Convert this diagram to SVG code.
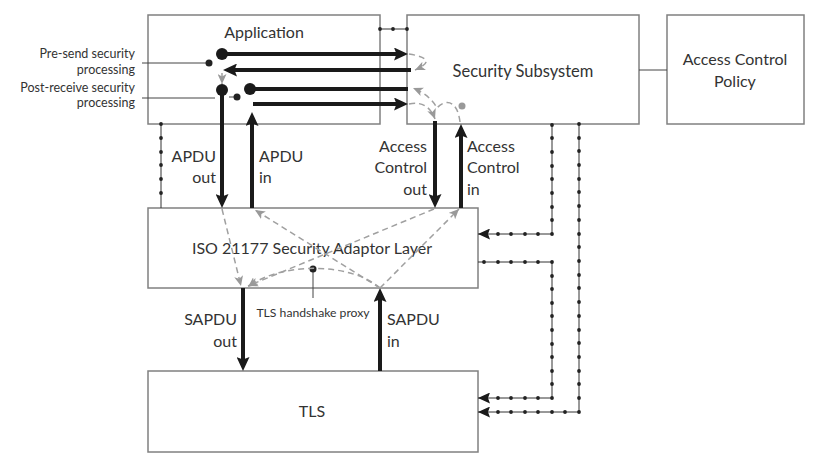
<svg xmlns="http://www.w3.org/2000/svg" width="817" height="465" viewBox="0 0 817 465">
<style>
.box{fill:#fff;stroke:#808080;stroke-width:1.5}
.t{font-family:Lato,"Open Sans","Liberation Sans",sans-serif;fill:#333}
.big{font-size:16px}
.sm{font-size:12.5px}
.thick{stroke:#1a1a1a;stroke-width:4;fill:none}
.dash{stroke:#a0a0a0;stroke-width:1.5;fill:none;stroke-dasharray:6 4}
.dc{stroke:#333;stroke-width:1;fill:none}
.dt{fill:#222}
.ln{stroke:#444;stroke-width:1;fill:none}
</style>
<defs>
<marker id="ba" viewBox="0 0 14 13" refX="4" refY="6.5" markerWidth="14" markerHeight="13" markerUnits="userSpaceOnUse" orient="auto"><path d="M0,0 L14,6.5 L0,13 L2.5,6.5 z" fill="#1a1a1a"/></marker>
<marker id="da" viewBox="0 0 12 11" refX="12" refY="5.5" markerWidth="12" markerHeight="11" markerUnits="userSpaceOnUse" orient="auto"><path d="M0,0 L12,5.5 L0,11 L2,5.5 z" fill="#1a1a1a"/></marker>
<marker id="ga" viewBox="0 0 10 9" refX="10" refY="4.5" markerWidth="10" markerHeight="9" markerUnits="userSpaceOnUse" orient="auto"><path d="M0,0 L10,4.5 L0,9 L2.5,4.5 z" fill="#999"/></marker>
</defs>

<g id="application">
<rect class="box" x="148" y="15" width="232" height="109"/>
<text class="t big" x="264" y="38" text-anchor="middle">Application</text>
</g>
<g id="security-subsystem">
<rect class="box" x="407" y="15" width="232" height="109"/>
<text class="t" style="font-size:16.5px" x="523" y="77" text-anchor="middle">Security Subsystem</text>
</g>
<g id="access-control-policy">
<rect class="box" x="667" y="15" width="137" height="109"/>
<text class="t big" x="735" y="65" text-anchor="middle">Access Control</text>
<text class="t big" x="735" y="87" text-anchor="middle">Policy</text>
</g>
<g id="sal">
<rect class="box" x="148" y="208" width="330" height="80"/>
<text class="t big" x="312" y="254" text-anchor="middle">ISO 21177 Security Adaptor Layer</text>
</g>
<g id="tls">
<rect class="box" x="148" y="371" width="330" height="81"/>
<text class="t big" x="312" y="417" text-anchor="middle">TLS</text>
</g>

<g id="labels">
<text class="t sm" x="135" y="58" text-anchor="end">Pre-send security</text>
<text class="t sm" x="135" y="74" text-anchor="end">processing</text>
<text class="t sm" x="135" y="92" text-anchor="end">Post-receive security</text>
<text class="t sm" x="135" y="107" text-anchor="end">processing</text>
<text class="t big" x="216" y="162" text-anchor="end">APDU</text>
<text class="t big" x="216" y="183" text-anchor="end">out</text>
<text class="t big" x="259" y="162">APDU</text>
<text class="t big" x="259" y="183">in</text>
<text class="t big" x="427" y="152" text-anchor="end">Access</text>
<text class="t big" x="427" y="173" text-anchor="end">Control</text>
<text class="t big" x="427" y="195" text-anchor="end">out</text>
<text class="t big" x="467" y="152">Access</text>
<text class="t big" x="467" y="173">Control</text>
<text class="t big" x="467" y="195">in</text>
<text class="t big" x="237" y="325" text-anchor="end">SAPDU</text>
<text class="t big" x="237" y="347" text-anchor="end">out</text>
<text class="t big" x="387" y="325">SAPDU</text>
<text class="t big" x="387" y="347">in</text>
<text class="t" style="font-size:12.2px" x="313" y="317" text-anchor="middle">TLS handshake proxy</text>
</g>

<g id="connectors">
<path class="ln" d="M142,63 H207 M142,98 H215 M229,97 H237 M639,70 H667"/>
<circle cx="209" cy="63" r="3.5" class="dt"/>
<circle cx="237" cy="97" r="3.5" class="dt"/>
<path class="ln" d="M313,269 V298"/>
<circle cx="313" cy="269" r="3.5" class="dt"/>

<path class="thick" d="M222,54 H398" marker-end="url(#ba)"/>
<path class="thick" d="M411,70 H233" marker-end="url(#ba)"/>
<path class="thick" d="M250,89 H408"/>
<path class="thick" d="M253,104 H398" marker-end="url(#ba)"/>
<path class="thick" d="M222,90 V198" marker-end="url(#ba)"/>
<path class="thick" d="M252,208 V122" marker-end="url(#ba)"/>
<path class="thick" d="M435,121 V198" marker-end="url(#ba)"/>
<path class="thick" d="M461,208 V134" marker-end="url(#ba)"/>
<path class="thick" d="M243,288 V361" marker-end="url(#ba)"/>
<path class="thick" d="M380,371 V298" marker-end="url(#ba)"/>
<circle cx="222" cy="54" r="6" fill="#1a1a1a"/>
<circle cx="250" cy="89" r="6" fill="#1a1a1a"/>
<circle cx="222" cy="90" r="6" fill="#1a1a1a"/>

<path class="dash" d="M222,73 V84" marker-end="url(#ga)"/>
<path class="dash" d="M409,54 Q440,59 415,70" marker-end="url(#ga)"/>
<path class="dash" d="M409,104 Q428,100 435,119" marker-end="url(#ga)"/>
<path class="dash" d="M460,122 C457,98 444,100 437,108 Q430,95 413,88" marker-end="url(#ga)"/>
<circle cx="462" cy="106" r="3.5" fill="#999"/>
<path class="dash" d="M222,209 L241,286" marker-end="url(#ga)"/>
<path class="dash" d="M380,288 L255,210" marker-end="url(#ga)"/>
<path class="dash" d="M380,288 L459,209" marker-end="url(#ga)"/>
<path class="dash" d="M434,209 L248,286" marker-end="url(#ga)"/>
<path class="dash" d="M380,288 C350,262 280,262 248,287" marker-end="url(#ga)"/>

<path class="dc" d="M380,29 H407"/>
<path class="dc" d="M161,124 V208"/>
<path class="dc" d="M552,124 V234 H478" marker-end="url(#da)"/>
<path class="dc" d="M478,262 H552 V398 H478" marker-end="url(#da)"/>
<path class="dc" d="M579,124 V412 H478" marker-end="url(#da)"/>
<g class="dt">
<circle cx="380" cy="29" r="1.9"/><circle cx="393" cy="29" r="1.9"/><circle cx="407" cy="29" r="1.9"/>
<circle cx="161" cy="124" r="1.9"/><circle cx="161" cy="138" r="1.9"/><circle cx="161" cy="152" r="1.9"/><circle cx="161" cy="165" r="1.9"/><circle cx="161" cy="179" r="1.9"/><circle cx="161" cy="193" r="1.9"/>
<circle cx="552" cy="125" r="1.9"/><circle cx="552" cy="138" r="1.9"/><circle cx="552" cy="152" r="1.9"/><circle cx="552" cy="166" r="1.9"/><circle cx="552" cy="179" r="1.9"/><circle cx="552" cy="193" r="1.9"/><circle cx="552" cy="207" r="1.9"/><circle cx="552" cy="220" r="1.9"/><circle cx="552" cy="234" r="1.9"/>
<circle cx="538" cy="234" r="1.9"/><circle cx="525" cy="234" r="1.9"/><circle cx="511" cy="234" r="1.9"/><circle cx="498" cy="234" r="1.9"/>
<circle cx="484" cy="262" r="1.9"/><circle cx="498" cy="262" r="1.9"/><circle cx="511" cy="262" r="1.9"/><circle cx="525" cy="262" r="1.9"/><circle cx="538" cy="262" r="1.9"/><circle cx="552" cy="262" r="1.9"/>
<circle cx="552" cy="276" r="1.9"/><circle cx="552" cy="289" r="1.9"/><circle cx="552" cy="303" r="1.9"/><circle cx="552" cy="316" r="1.9"/><circle cx="552" cy="330" r="1.9"/><circle cx="552" cy="344" r="1.9"/><circle cx="552" cy="357" r="1.9"/><circle cx="552" cy="371" r="1.9"/><circle cx="552" cy="384" r="1.9"/><circle cx="552" cy="398" r="1.9"/>
<circle cx="538" cy="398" r="1.9"/><circle cx="525" cy="398" r="1.9"/><circle cx="511" cy="398" r="1.9"/><circle cx="498" cy="398" r="1.9"/>
<circle cx="579" cy="124" r="1.9"/><circle cx="579" cy="138" r="1.9"/><circle cx="579" cy="151" r="1.9"/><circle cx="579" cy="165" r="1.9"/><circle cx="579" cy="179" r="1.9"/><circle cx="579" cy="192" r="1.9"/><circle cx="579" cy="206" r="1.9"/><circle cx="579" cy="220" r="1.9"/><circle cx="579" cy="234" r="1.9"/><circle cx="579" cy="247" r="1.9"/><circle cx="579" cy="261" r="1.9"/><circle cx="579" cy="275" r="1.9"/><circle cx="579" cy="288" r="1.9"/><circle cx="579" cy="302" r="1.9"/><circle cx="579" cy="316" r="1.9"/><circle cx="579" cy="330" r="1.9"/><circle cx="579" cy="343" r="1.9"/><circle cx="579" cy="357" r="1.9"/><circle cx="579" cy="371" r="1.9"/><circle cx="579" cy="384" r="1.9"/><circle cx="579" cy="398" r="1.9"/><circle cx="579" cy="412" r="1.9"/>
<circle cx="565" cy="412" r="1.9"/><circle cx="552" cy="412" r="1.9"/><circle cx="538" cy="412" r="1.9"/><circle cx="525" cy="412" r="1.9"/><circle cx="511" cy="412" r="1.9"/><circle cx="498" cy="412" r="1.9"/>
</g>
</g>
</svg>
